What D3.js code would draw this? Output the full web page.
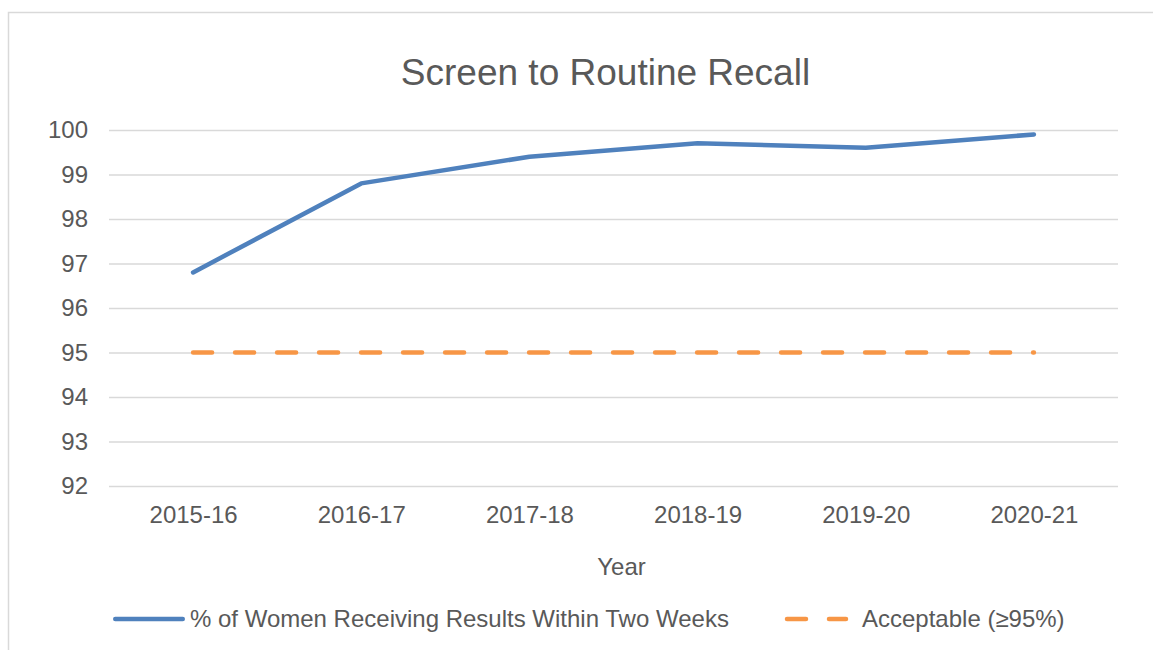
<!DOCTYPE html>
<html>
<head>
<meta charset="utf-8">
<script src="https://cdn.jsdelivr.net/npm/d3@7"></script>
<style>
  body { margin: 0; background: #fff; }
  text { font-family: "Liberation Sans", Arial, sans-serif; fill: #595959; }
</style>
</head>
<body>
<div id="chart"></div>
<script>
// data
const years = ["2015-16", "2016-17", "2017-18", "2018-19", "2019-20", "2020-21"];
const pctWithinTwoWeeks = [96.8, 98.8, 99.4, 99.7, 99.6, 99.9];
const acceptable = [95, 95, 95, 95, 95, 95];
const yTicks = [92, 93, 94, 95, 96, 97, 98, 99, 100];

const W = 1153, H = 650;
const svg = d3.select("#chart").append("svg")
  .attr("width", W)
  .attr("height", H);

// chart frame (runs off the right and bottom edge)
svg.append("rect")
  .attr("x", 8.5).attr("y", 12.5)
  .attr("width", 1200).attr("height", 700)
  .attr("fill", "none")
  .attr("stroke", "#d9d9d9")
  .attr("stroke-width", 1.5);

var plot = { left: 109, right: 1118, top: 130, bottom: 486 };

var x = d3.scalePoint().domain(years).range([plot.left, plot.right]).padding(0.5);
var y = d3.scaleLinear().domain([92, 100]).range([plot.bottom, plot.top]);

// y axis with gridlines
const yAxis = svg.append("g")
  .attr("transform", `translate(${plot.left},0)`)
  .call(d3.axisLeft(y).tickValues(yTicks).tickSize(-(plot.right - plot.left)).tickPadding(21).tickFormat(d3.format("d")));
yAxis.select(".domain").remove();
yAxis.selectAll(".tick line").attr("stroke", "#d9d9d9").attr("stroke-width", 1.5);
yAxis.selectAll(".tick text").style("font-size", "24px").attr("fill", "#595959");

// x axis labels
const xAxis = svg.append("g")
  .attr("transform", `translate(0,${plot.bottom})`)
  .call(d3.axisBottom(x).tickSize(0).tickPadding(20));
xAxis.select(".domain").remove();
xAxis.selectAll(".tick text").style("font-size", "24px").attr("fill", "#595959");

const line = d3.line()
  .x((d, i) => x(years[i]))
  .y((d) => y(d));

svg.append("path")
  .datum(acceptable)
  .attr("d", line)
  .attr("fill", "none")
  .attr("stroke", "#f79646")
  .attr("stroke-width", 4.5)
  .attr("stroke-linecap", "round")
  .attr("stroke-dasharray", "19,23");

svg.append("path")
  .datum(pctWithinTwoWeeks)
  .attr("d", line)
  .attr("fill", "none")
  .attr("stroke", "#4f81bd")
  .attr("stroke-width", 4.5)
  .attr("stroke-linecap", "round")
  .attr("stroke-linejoin", "round");

// title
svg.append("text")
  .text("Screen to Routine Recall")
  .attr("x", 605.5).attr("y", 85)
  .attr("text-anchor", "middle")
  .style("font-size", "37px");

// x axis title
svg.append("text")
  .text("Year")
  .attr("x", 621.5).attr("y", 575)
  .attr("text-anchor", "middle")
  .style("font-size", "24px");

// legend
const legendY = 619;
svg.append("line")
  .attr("x1", 115.25).attr("x2", 182.75)
  .attr("y1", legendY).attr("y2", legendY)
  .attr("stroke", "#4f81bd").attr("stroke-width", 4.5)
  .attr("stroke-linecap", "round");
svg.append("text")
  .text("% of Women Receiving Results Within Two Weeks")
  .attr("x", 190).attr("y", 627)
  .style("font-size", "24px");

svg.append("line")
  .attr("x1", 787).attr("x2", 846)
  .attr("y1", legendY).attr("y2", legendY)
  .attr("stroke", "#f79646").attr("stroke-width", 4.5)
  .attr("stroke-linecap", "round")
  .attr("stroke-dasharray", "19,23");
svg.append("text")
  .text("Acceptable (≥95%)")
  .attr("x", 862).attr("y", 627)
  .style("font-size", "24px");
</script>
</body>
</html>
